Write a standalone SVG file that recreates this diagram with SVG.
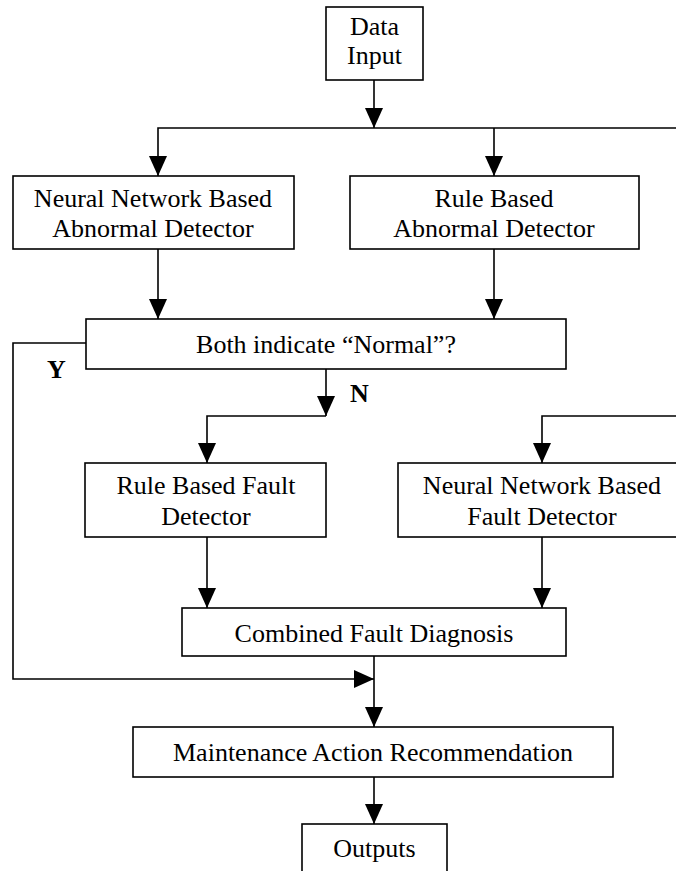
<svg xmlns="http://www.w3.org/2000/svg" width="676" height="871" viewBox="0 0 676 871">
<defs>
<marker id="ah" markerUnits="userSpaceOnUse" markerWidth="20" markerHeight="18" refX="20" refY="9" orient="auto">
<path d="M0,0 L20,9 L0,18 Z" fill="#000"/>
</marker>
<style>
.box{fill:#fff;stroke:#000;stroke-width:1.6}
.t{font-family:"Liberation Serif","Times New Roman",serif;font-size:26px;fill:#000;text-anchor:middle}
.b{font-family:"Liberation Serif","Times New Roman",serif;font-size:26px;font-weight:bold;fill:#000}
.c{fill:none;stroke:#000;stroke-width:1.6;marker-end:url(#ah)}
</style>
</defs>
<rect width="676" height="871" fill="#fff"/>
<g id="connectors">
<path class="c" d="M374,80 V128"/>
<path class="c" d="M676,128 H158 V176"/>
<path class="c" d="M494,128 V176"/>
<path class="c" d="M158,249 V319"/>
<path class="c" d="M494,249 V319"/>
<path class="c" d="M86,343 H13 V679 H374"/>
<path class="c" d="M326,369 V416"/>
<path class="c" d="M326,416 H207 V463"/>
<path class="c" d="M676,416 H542 V463"/>
<path class="c" d="M207,537 V608"/>
<path class="c" d="M542,537 V608"/>
<path class="c" d="M374,656 V727"/>
<path class="c" d="M374,777 V824"/>
<text class="b" x="47" y="378">Y</text>
<text class="b" x="350" y="402">N</text>
</g>
<g id="data-input">
<rect class="box" x="326" y="7" width="97" height="73"/>
<text class="t" x="374.5" y="35">Data</text>
<text class="t" x="374.5" y="64">Input</text>
</g>
<g id="nn-abnormal">
<rect class="box" x="13" y="176" width="281" height="73"/>
<text class="t" x="153" y="207">Neural Network Based</text>
<text class="t" x="153" y="237">Abnormal Detector</text>
</g>
<g id="rule-abnormal">
<rect class="box" x="350" y="176" width="289" height="73"/>
<text class="t" x="494" y="207">Rule Based</text>
<text class="t" x="494" y="237">Abnormal Detector</text>
</g>
<g id="both-normal">
<rect class="box" x="86" y="319" width="480" height="50"/>
<text class="t" x="326" y="353">Both indicate “Normal”?</text>
</g>
<g id="rule-fault">
<rect class="box" x="85" y="463" width="241" height="74"/>
<text class="t" x="206" y="494">Rule Based Fault</text>
<text class="t" x="206" y="525">Detector</text>
</g>
<g id="nn-fault">
<rect class="box" x="398" y="463" width="290" height="74"/>
<text class="t" x="542" y="494">Neural Network Based</text>
<text class="t" x="542" y="525">Fault Detector</text>
</g>
<g id="combined">
<rect class="box" x="182" y="608" width="384" height="48"/>
<text class="t" x="374" y="642">Combined Fault Diagnosis</text>
</g>
<g id="maintenance">
<rect class="box" x="133" y="727" width="480" height="50"/>
<text class="t" x="373" y="761">Maintenance Action Recommendation</text>
</g>
<g id="outputs">
<rect class="box" x="302" y="824" width="145" height="60"/>
<text class="t" x="374.5" y="857">Outputs</text>
</g>
</svg>
